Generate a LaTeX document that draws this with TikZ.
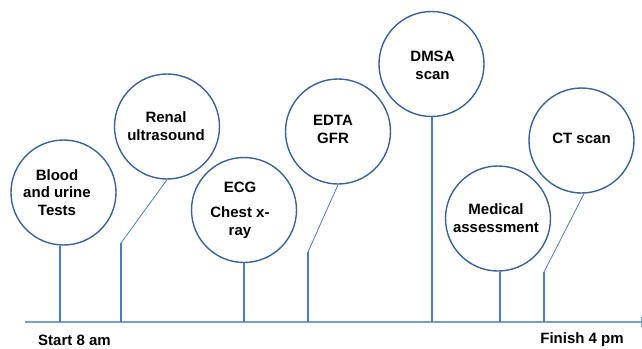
\documentclass[tikz,border=0pt]{standalone}
\usepackage{fontspec}
\setmainfont{Liberation Sans}
\begin{document}
\begin{tikzpicture}[x=1pt,y=-1pt,
  bub/.style={circle,draw=circ,line width=1.4pt,minimum size=#1,inner sep=0pt},
  bub/.default=105pt,
  txt/.style={font=\fontsize{15}{17.5}\selectfont\bfseries,align=center,inner sep=0pt},
  stem/.style={draw=stemc,line width=1.9pt},
  slant/.style={draw=stemc,line width=0.8pt},
  axis/.style={draw=axisc,line width=1.5pt}]
\definecolor{circ}{HTML}{3B6298}
\definecolor{stemc}{HTML}{4A7DBF}
\definecolor{axisc}{HTML}{76A0D4}
\useasboundingbox (0,0) rectangle (642,348);
% axis
\coordinate (a0) at (25,322);
\coordinate (a1) at (641.5,322);
\draw[axis] (a0) -- (a1);
\draw[axis,line width=1.2pt] ([yshift=-5]a1) -- ([yshift=5]a1);
% circles
\node[bub] (c1) at (63.5,192.5) {};
\node[bub] (c2) at (167,126.5) {};
\node[bub] (c3) at (244,210) {};
\node[bub] (c4) at (338,131.5) {};
\node[bub] (c5) at (431.5,64) {};
\node[bub] (c6) at (498,218.5) {};
\node[bub] (c7) at (581.5,140.5) {};
% texts
\node[txt] (t1) at (57,192.5) {Blood\\and urine\\Tests};
\node[txt] (t2) at (166,126) {Renal\\ultrasound};
\node[txt] (t3) at (240,187) {ECG};
\node[txt] (t3b) at (240,222.5) {Chest x-\\ray};
\node[txt] (t4) at (333,129.5) {EDTA\\GFR};
\node[txt] (t5) at (432.5,65.5) {DMSA\\scan};
\node[txt] (t6) at (496,218) {Medical\\assessment};
\node[txt] (t7) at (581.5,138.5) {CT scan};
% stems
\coordinate (s1) at (60,322);
\draw[stem] (c1.south -| s1) -- (s1);
\coordinate (s3) at (244,322);
\draw[stem] (c3.south) -- (s3);
\coordinate (s5) at (432,322);
\draw[stem] (c5.south -| s5) -- (s5);
\coordinate (s6) at (500,322);
\draw[stem] (c6.south -| s6) -- (s6);
% bent connectors
\coordinate (k2) at (121,243);
\coordinate (b2) at (121,322);
\draw[slant] (c2.south) -- (k2);
\draw[stem] (k2) -- (b2);
\coordinate (k4) at (308,252);
\coordinate (b4) at (308,322);
\draw[slant] (c4.south) -- (k4);
\draw[stem] (k4) -- (b4);
\coordinate (k7) at (544,272);
\coordinate (b7) at (544,322);
\draw[slant] ([xshift=2.5]c7.south) -- (k7);
\draw[stem] (k7) -- (b7);
% labels
\node[txt] (start) at (74.5,340) {Start 8 am};
\node[txt] (finish) at (582,340) {Finish 4 pm};
\end{tikzpicture}
\end{document}
